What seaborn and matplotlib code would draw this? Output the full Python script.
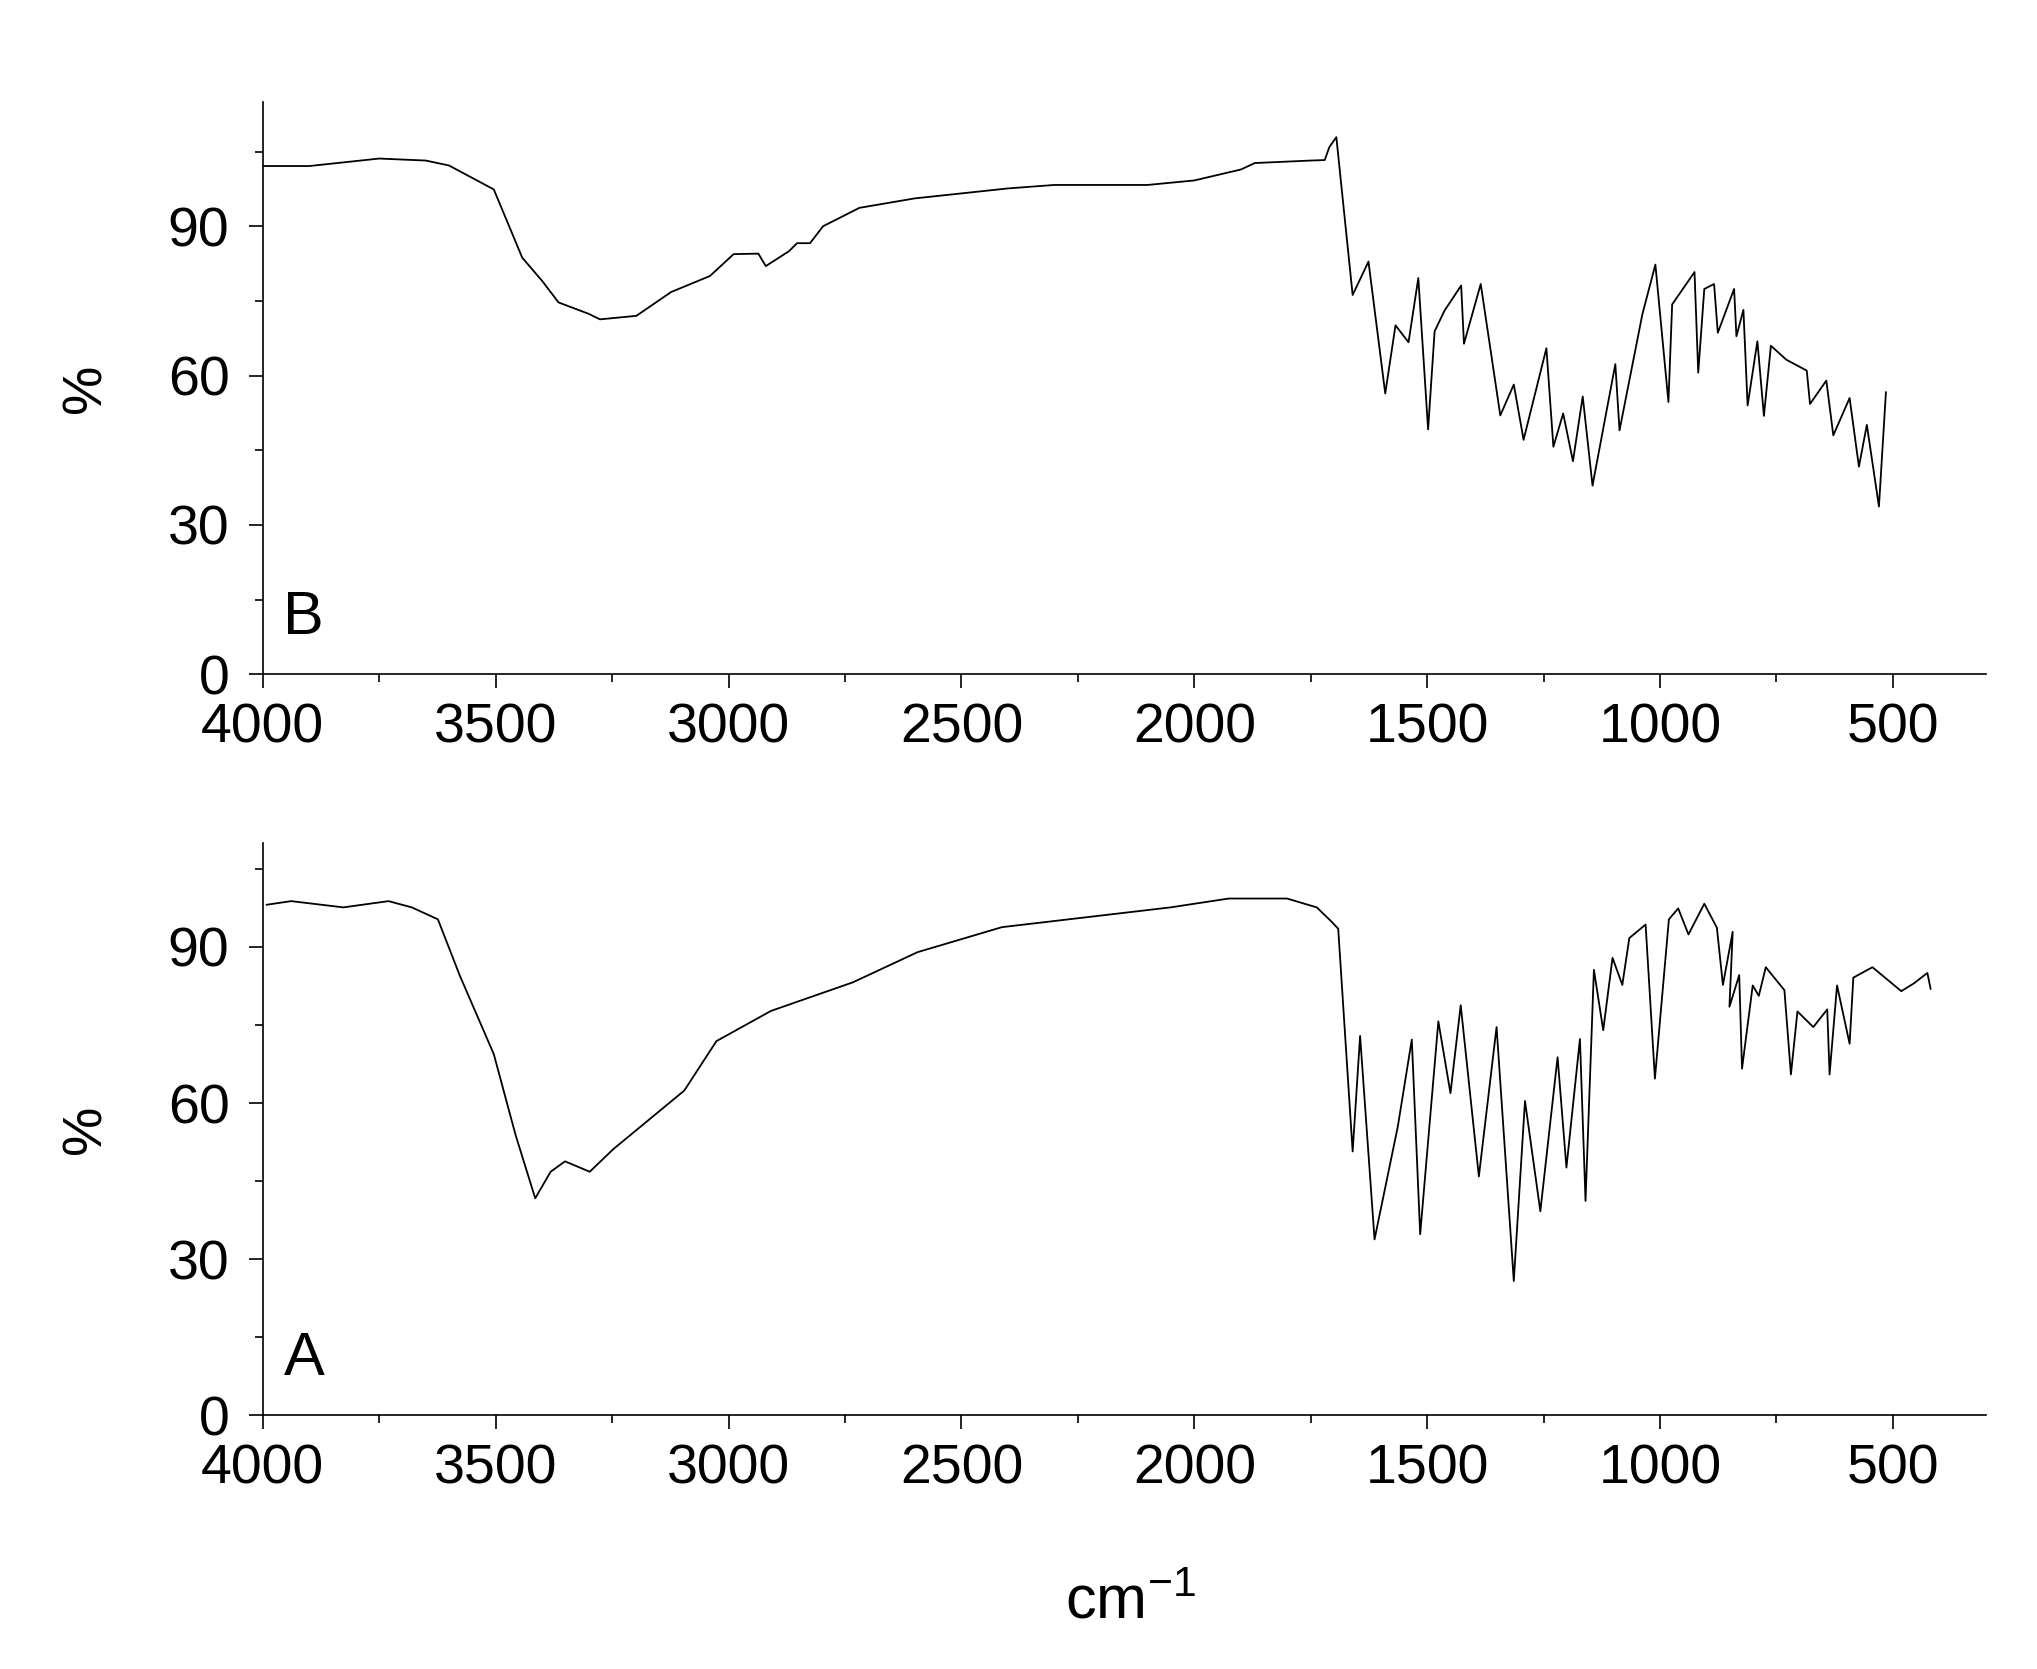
import matplotlib
matplotlib.use("Agg")
import matplotlib.pyplot as plt
import numpy as np
import pandas as pd
import seaborn as sns
from matplotlib.ticker import MultipleLocator

# spectrum B (top)
wn_b = [4000, 3900, 3750, 3650, 3600, 3504, 3471, 3443, 3400, 3365, 3300, 3276, 3198, 3123,
        3040, 2989, 2936, 2920, 2870, 2853, 2825, 2797, 2719, 2600, 2500, 2400, 2300, 2100,
        2000, 1900, 1870, 1750, 1720, 1710, 1695,
        1660, 1626, 1590, 1568, 1540, 1519, 1498, 1484, 1463, 1427, 1421, 1385, 1343, 1314,
        1293, 1244, 1229, 1208, 1187, 1166, 1145, 1096, 1087, 1038, 1010, 982, 974, 926, 918,
        905, 884, 876, 841, 836, 821, 812, 791, 777, 762, 729, 685, 678, 643, 628, 593, 573,
        556, 530, 515]
t_b = [102.1, 102.1, 103.6, 103.2, 102.2, 97.4, 90.0, 83.7, 79.0, 74.7, 72.4, 71.3, 72.0, 76.8,
       80.0, 84.4, 84.5, 82.0, 85.0, 86.6, 86.6, 90.0, 93.7, 95.6, 96.6, 97.6, 98.3, 98.3,
       99.2, 101.4, 102.7, 103.2, 103.3, 105.9, 107.9,
       76.2, 82.9, 56.4, 70.1, 66.7, 79.6, 49.2, 68.9, 73.0, 78.1, 66.4, 78.4, 52.0, 58.2,
       47.1, 65.5, 45.7, 52.4, 42.8, 55.8, 37.9, 62.3, 49.0, 72.3, 82.3, 54.7, 74.3, 80.8, 60.6,
       77.4, 78.4, 68.6, 77.4, 67.9, 73.2, 54.0, 66.9, 51.9, 66.0, 63.2, 61.0, 54.3, 59.0, 48.0,
       55.5, 41.7, 50.1, 33.7, 56.7]

# spectrum A (bottom)
wn_a = [3992, 3939, 3827, 3730, 3680, 3624, 3577, 3504, 3457, 3415, 3382, 3351, 3298, 3248,
        3095, 3026, 2909, 2733, 2594, 2413, 2051, 1926, 1801, 1737, 1707, 1691,
        1660, 1644, 1613, 1563, 1533, 1515, 1476, 1450, 1428, 1389, 1351, 1314, 1290, 1257,
        1220, 1201, 1172, 1160, 1142, 1122, 1102, 1081, 1066, 1031, 1011, 981, 961, 939, 905,
        878, 865, 844, 851, 830, 824, 801, 788, 773, 733, 719, 705, 671, 641, 636, 620, 593,
        585, 544, 482, 455, 426, 419]
t_a = [98.1, 98.8, 97.6, 98.8, 97.6, 95.3, 84.5, 69.4, 53.8, 41.7, 46.8, 48.8, 46.8, 51.1,
       62.4, 71.9, 77.7, 83.2, 89.0, 93.8, 97.6, 99.3, 99.3, 97.6, 95.0, 93.5,
       50.7, 72.9, 33.8, 55.5, 72.2, 34.8, 75.7, 61.9, 78.8, 45.9, 74.6, 25.8, 60.4, 39.2,
       68.8, 47.6, 72.3, 41.2, 85.6, 74.0, 87.9, 82.7, 91.7, 94.3, 64.7, 95.3, 97.4, 92.4, 98.3,
       93.7, 82.7, 92.9, 78.5, 84.6, 66.6, 82.6, 80.6, 86.1, 81.7, 65.5, 77.6, 74.6, 78.0, 65.5,
       82.6, 71.4, 84.1, 86.1, 81.5, 83.0, 85.0, 81.9]

sns.set_style("ticks")
plt.rcParams["font.family"] = ["Liberation Sans", "DejaVu Sans"]
plt.rcParams["mathtext.fontset"] = "custom"
plt.rcParams["mathtext.rm"] = "Liberation Sans"
plt.rcParams["mathtext.default"] = "regular"
plt.rcParams["text.color"] = "black"
plt.rcParams["axes.labelcolor"] = "black"
plt.rcParams["xtick.color"] = "black"
plt.rcParams["ytick.color"] = "black"
plt.rcParams["axes.edgecolor"] = "black"

fig = plt.figure(figsize=(20.37, 16.69), dpi=100)
ax_b = fig.add_axes([0.129, 0.596, 0.846, 0.343])
ax_a = fig.add_axes([0.129, 0.152, 0.846, 0.343])

for ax, wn, t, top, lab in [(ax_b, wn_b, t_b, 115, "B"), (ax_a, wn_a, t_a, 110, "A")]:
    df = pd.DataFrame({"wn": wn, "t": t})
    sns.lineplot(data=df, x="wn", y="t", ax=ax, color="black", linewidth=1.3, sort=False)
    ax.set_xlim(4000, 300)
    ax.set_ylim(0, top)
    ax.xaxis.set_major_locator(MultipleLocator(500))
    ax.xaxis.set_minor_locator(MultipleLocator(250))
    ax.yaxis.set_major_locator(MultipleLocator(30))
    ax.yaxis.set_minor_locator(MultipleLocator(15))
    ax.tick_params(axis="both", which="major", labelsize=40, length=10, width=1.2)
    ax.tick_params(axis="x", which="major", pad=10)
    ax.tick_params(axis="y", which="major", pad=14)
    ax.tick_params(axis="both", which="minor", length=6, width=1.2)
    for s in ["top", "right"]:
        ax.spines[s].set_visible(False)
    for s in ["left", "bottom"]:
        ax.spines[s].set_linewidth(1.2)
    ax.set_xlabel("")
    ax.set_ylabel("%", fontsize=40, labelpad=40)
    ax.text(0.012, 0.07, lab, transform=ax.transAxes, fontsize=44)

fig.text(0.555, 0.03, "cm$^{-1}$", fontsize=44, ha="center")
fig.savefig("out.png", dpi=100)
